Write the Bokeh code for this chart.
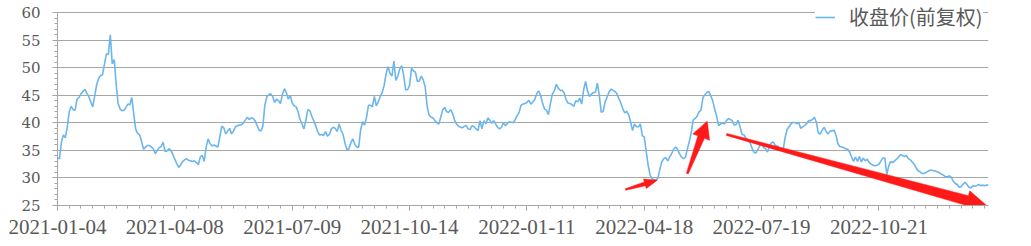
import math
from bokeh.plotting import figure
from bokeh.models import Range1d, FixedTicker, ColumnDataSource
from bokeh.embed import file_html
from bokeh.resources import INLINE

# ---- data -------------------------------------------------------------
series_name = "收盘价(前复权)"

close = [
    33.6, 33.5, 36.5, 37.8, 37.3, 39.2, 42.0, 43.0, 42.4, 42.3,
    44.3, 44.6, 45.3, 45.7, 46.1, 45.4, 44.8, 43.8, 42.9, 44.8,
    46.9, 48.0, 48.6, 48.7, 50.6, 52.5, 52.4, 56.0, 50.7, 51.5,
    47.0, 43.5, 42.5, 42.2, 42.3, 42.8, 43.4, 43.3, 44.6, 41.5,
    38.8, 38.1, 37.8, 36.6, 35.2, 35.6, 35.9, 35.9, 35.6, 35.3,
    34.4, 35.0, 35.5, 35.7, 36.5, 34.8, 34.9, 35.3, 35.0, 34.2,
    33.4, 32.6, 31.9, 32.4, 33.0, 33.3, 33.5, 33.2, 33.1, 33.0,
    33.1, 32.8, 32.4, 33.8, 34.1, 33.0, 35.6, 37.1, 36.2, 35.8,
    36.0, 35.8, 35.6, 37.5, 39.4, 39.1, 38.0, 38.5, 39.0, 38.0,
    38.5, 39.3, 39.5, 39.6, 39.6, 40.0, 40.5, 41.0, 40.6, 40.9,
    40.8, 40.4, 39.6, 38.7, 38.5, 39.4, 43.2, 44.7, 45.1, 45.3,
    44.8, 43.7, 44.3, 44.0, 43.5, 45.2, 46.2, 45.5, 44.3, 45.0,
    43.6, 43.1, 42.9, 42.0, 40.6, 39.8, 38.9, 40.5, 42.4, 42.2,
    41.2, 40.4, 39.5, 38.4, 37.8, 37.9, 37.7, 38.4, 37.6, 37.9,
    38.9, 39.2, 39.0, 38.4, 39.8, 38.6, 37.9, 36.3, 35.1, 35.3,
    36.4, 37.1, 36.1, 35.6, 35.6, 38.8, 40.2, 39.6, 41.0, 43.2,
    43.2, 42.9, 44.8, 43.1, 43.8, 44.8, 45.5, 46.8, 48.9, 50.2,
    49.0, 48.5, 51.2, 47.7, 48.5, 49.8, 50.4, 48.6, 46.0, 46.0,
    46.8, 49.9, 49.4, 49.2, 47.5, 47.6, 48.5, 47.8, 46.5, 43.0,
    41.4, 41.0, 40.9, 40.4, 40.0, 39.8, 41.1, 42.4, 42.8, 42.0,
    41.9, 42.4, 41.7, 40.5, 39.8, 39.4, 39.2, 39.1, 39.4, 39.5,
    38.9, 38.8, 39.5, 39.3, 38.9, 38.6, 40.4, 38.9, 40.4, 39.8,
    40.9, 40.5, 39.9, 40.4, 39.8, 39.2, 38.9, 39.2, 40.0, 39.5,
    39.9, 40.2, 40.1, 40.0, 40.6, 41.3, 41.9, 43.2, 43.4, 43.5,
    43.7, 44.1, 43.4, 43.8, 44.2, 45.3, 45.8, 45.0, 43.6, 42.5,
    42.3, 41.5, 43.5, 45.2, 45.8, 47.0, 46.3, 45.9, 45.9, 45.5,
    44.2, 43.6, 43.5, 43.3, 43.0, 44.0, 43.8, 44.5, 43.4, 46.0,
    47.5, 45.8, 44.8, 45.2, 45.5, 45.5, 47.2, 45.0, 41.9, 42.1,
    43.8, 44.7, 45.6, 46.1, 45.9, 45.7, 45.3, 44.4, 43.6, 42.6,
    41.8, 42.1, 41.5, 40.2, 38.6, 39.8, 39.3, 39.3, 39.8, 37.7,
    37.4, 34.8, 32.3, 30.5, 29.8, 29.7, 29.6, 30.0, 31.6, 33.0,
    33.5, 33.7, 33.1, 33.8, 34.4, 35.2, 35.6, 35.2, 34.4, 33.8,
    33.5, 33.7, 35.2, 36.6, 38.2, 40.5, 40.8, 41.2, 42.0, 42.3,
    44.6, 45.1, 45.5, 45.7, 44.9, 44.0, 42.5, 41.2, 39.5, 39.8,
    40.0, 39.8, 40.4, 40.8, 40.6, 40.4, 39.6, 39.7, 40.5, 39.2,
    37.9, 37.8, 37.2, 36.8, 36.5, 35.5, 34.7, 34.5, 35.1, 35.8,
    36.3, 35.5, 35.3, 34.7, 35.7, 36.4, 36.5, 35.9, 35.8, 35.3,
    35.2, 35.1, 37.3, 38.8, 39.3, 39.8, 40.1, 40.0, 39.9, 40.0,
    39.0, 39.3, 39.5, 39.8, 40.4, 40.4, 40.6, 41.0, 40.1, 38.1,
    38.0, 38.7, 39.2, 38.4, 38.0, 38.5, 38.5, 38.7, 37.8, 36.2,
    35.7, 35.6, 35.5, 35.3, 35.2, 34.7, 33.8, 33.0, 33.8, 33.0,
    33.9, 32.9, 33.6, 33.1, 33.4, 32.8, 32.5, 32.3, 32.2, 32.3,
    32.5, 33.1, 33.6, 33.6, 30.6, 32.2, 33.0, 32.8, 33.1, 33.4,
    33.8, 34.2, 34.1, 33.9, 34.1, 33.5, 33.3, 32.9, 32.5, 31.8,
    31.3, 31.1, 30.8, 30.8, 31.0, 31.2, 31.4, 31.4, 31.3, 31.2,
    31.1, 30.9, 30.7, 30.5, 30.2, 30.2, 30.4, 30.1, 29.4, 29.0,
    28.8, 28.3, 28.4, 28.9, 29.2, 28.8, 28.3, 28.2, 28.6, 28.5,
    28.6, 28.8, 28.6, 28.7, 28.6, 28.7, 28.7,
]

# category positions (trading-day index) of the labelled ticks
tick_idx = [0, 60, 120, 180, 240, 300, 360, 420]
tick_labels = ["2021-01-04", "2021-04-08", "2021-07-09", "2021-10-14",
               "2022-01-11", "2022-04-18", "2022-07-19", "2022-10-21"]
minor_step = 6
y_ticks = [25, 30, 35, 40, 45, 50, 55, 60]
y_min, y_max = 25, 60

# red annotation arrows: (tail index, tail value), (tip index, tip value)
arrow_tails = [(290.4, 27.9), (322.0, 30.8), (342.1, 37.9)]
arrow_tips = [(306.7, 29.6), (332.2, 40.3), (475.4, 24.9)]
# widths in pixels: tail width, neck width, head length, head width
arrow_shapes = [(1.5, 4.0, 13.0, 10.0), (2.0, 7.0, 17.0, 18.0), (2.0, 10.0, 21.0, 20.0)]

# ---- figure -----------------------------------------------------------
W, H = 1031, 246
left, right, top, bottom = 57, 43, 2, 41
frame_w = W - left - right
frame_h = H - top - bottom
px_per_unit = 5.51                      # vertical scale of the value axis
y_view_top = y_min + frame_h / px_per_unit   # a little headroom above 60 for the legend

x = list(range(len(close)))
x_max = len(close) - 1

p = figure(width=W, height=H, output_backend="svg", toolbar_location=None,
           title=None, x_range=Range1d(0, x_max), y_range=Range1d(y_min, y_view_top),
           min_border_left=left, min_border_right=right,
           min_border_top=top, min_border_bottom=bottom)
p.outline_line_color = None
p.background_fill_color = "white"
p.border_fill_color = "white"

gray = "#A6A6A6"
txt = "#595959"

# y axis
p.yaxis.ticker = FixedTicker(ticks=y_ticks, minor_ticks=list(range(y_min, y_max + 1)))
p.yaxis.bounds = (y_min, y_max)
p.yaxis.axis_line_color = gray
p.yaxis.major_tick_line_color = gray
p.yaxis.minor_tick_line_color = gray
p.yaxis.major_tick_out = 5
p.yaxis.major_tick_in = 0
p.yaxis.minor_tick_out = 3
p.yaxis.minor_tick_in = 0
p.yaxis.major_label_text_font = "DejaVu Serif"
p.yaxis.major_label_text_font_size = "15px"
p.yaxis.major_label_text_color = txt
p.yaxis.major_label_standoff = 12

# x axis
p.xaxis.ticker = FixedTicker(ticks=tick_idx,
                             minor_ticks=list(range(0, x_max + 1, minor_step)))
p.xaxis.major_label_overrides = {t: lab for t, lab in zip(tick_idx, tick_labels)}
p.xaxis.axis_line_color = gray
p.xaxis.major_tick_line_color = gray
p.xaxis.minor_tick_line_color = gray
p.xaxis.major_tick_out = 5
p.xaxis.major_tick_in = 0
p.xaxis.minor_tick_out = 3
p.xaxis.minor_tick_in = 0
p.xaxis.major_label_text_font = "Liberation Serif"
p.xaxis.major_label_text_font_size = "21px"
p.xaxis.major_label_text_color = txt
p.xaxis.major_label_standoff = 9

p.xgrid.visible = False
p.ygrid.grid_line_color = gray
p.ygrid.grid_line_width = 1

# price line
src = ColumnDataSource(data=dict(x=x, y=close))
p.line("x", "y", source=src, line_color="#6CB6EE", line_width=1.6,
       legend_label=series_name)

# arrows (tapered polygons built in pixel space, mapped back to data)
sx = frame_w / x_max
sy = frame_h / (y_view_top - y_min)
for (t, h, shp) in zip(arrow_tails, arrow_tips, arrow_shapes):
    w0, w1, hl, hw = shp
    tx, ty = t[0] * sx, (t[1] - y_min) * sy
    hx, hy = h[0] * sx, (h[1] - y_min) * sy
    dx, dy = hx - tx, hy - ty
    L = math.hypot(dx, dy)
    ux, uy = dx / L, dy / L
    nx, ny = -uy, ux
    neck = (hx - ux * hl, hy - uy * hl)
    pts = [
        (tx + nx * w0 / 2, ty + ny * w0 / 2),
        (neck[0] + nx * w1 / 2, neck[1] + ny * w1 / 2),
        (neck[0] + nx * hw / 2, neck[1] + ny * hw / 2),
        (hx, hy),
        (neck[0] - nx * hw / 2, neck[1] - ny * hw / 2),
        (neck[0] - nx * w1 / 2, neck[1] - ny * w1 / 2),
        (tx - nx * w0 / 2, ty - ny * w0 / 2),
    ]
    px = [a / sx for a, b in pts]
    py = [b / sy + y_min for a, b in pts]
    p.patch(px, py, fill_color="#FF1A1A", line_color="#FF1A1A", line_width=0.5)

# legend (inside the frame, covering the top grid line behind it)
leg = p.legend[0]
leg.location = (758, 174)
leg.background_fill_color = "white"
leg.background_fill_alpha = 1.0
leg.border_line_color = None
leg.padding = 2
leg.margin = 0
leg.glyph_width = 20
leg.label_standoff = 14
leg.label_text_font = "Noto Sans CJK SC"
leg.label_text_font_size = "20px"
leg.label_text_color = txt

open("out.html", "w").write(file_html(p, INLINE))
